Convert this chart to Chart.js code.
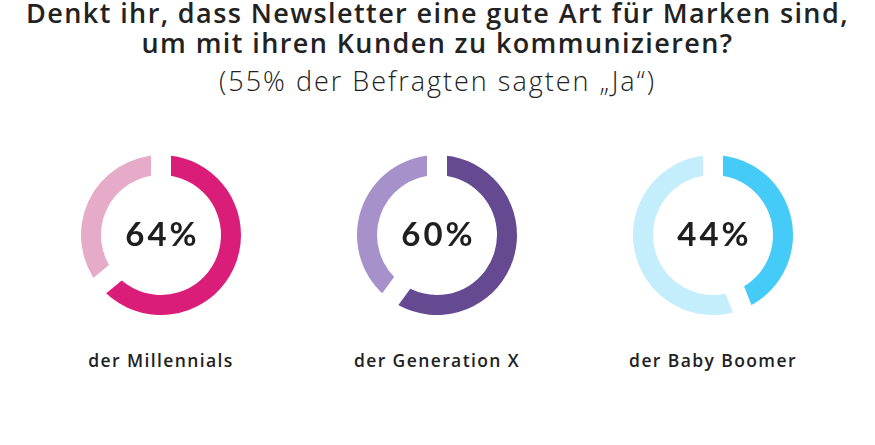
<!DOCTYPE html>
<html>
<head>
<meta charset="utf-8">
<script src="https://cdn.jsdelivr.net/npm/chart.js@4.4.1/dist/chart.umd.min.js"></script>
<style>
  html, body { margin: 0; padding: 0; background: #fff; }
  body { width: 875px; height: 445px; position: relative; overflow: hidden; font-family: "Open Sans", sans-serif; color: #222; }
  .title { position: absolute; left: 0; width: 875px; text-align: center; font-weight: 600; font-size: 27px; line-height: 26px; letter-spacing: 1.4px; white-space: nowrap; }
  .subtitle { position: absolute; top: 66px; left: 0; width: 875px; text-align: center; font-weight: 300; font-size: 27px; line-height: 30px; letter-spacing: 2px; }
  .donut { position: absolute; top: 155px; width: 160px; height: 160px; }
  .label { position: absolute; top: 349px; width: 276px; text-align: center; font-weight: 600; font-size: 17.5px; line-height: 22px; letter-spacing: 1.4px; }
</style>
</head>
<body>
<div class="title" style="top: 0px">Denkt ihr, dass Newsletter eine gute Art für Marken sind,</div>
<div class="title" style="top: 30px">um mit ihren Kunden zu kommunizieren?</div>
<div class="subtitle">(55% der Befragten sagten „Ja“)</div>
<div id="charts"></div>
<script>
const groups = ['der Millennials', 'der Generation X', 'der Baby Boomer'];
const yesShare = [64, 60, 44];
const darkColors = ['#DB1D7A', '#654A91', '#45CBF7'];
const lightColors = ['#E6ABC8', '#A791CB', '#C4EEFC'];
const centers = [161, 437, 713];

// white straight cuts between the two segments (parallel-edged gaps)
const gapCuts = {
    id: 'gapCuts',
    afterDatasetsDraw(chart) {
        const { ctx } = chart;
        ctx.save();
        ctx.strokeStyle = '#ffffff';
        ctx.lineWidth = 20;
        chart.getDatasetMeta(0).data.forEach(arc => {
            const r = arc.outerRadius + 4;
            ctx.beginPath();
            ctx.moveTo(arc.x, arc.y);
            ctx.lineTo(arc.x + Math.cos(arc.startAngle) * r, arc.y + Math.sin(arc.startAngle) * r);
            ctx.stroke();
        });
        ctx.restore();
    }
};

const centerText = {
    id: 'centerText',
    afterDraw(chart, args, opts) {
        const { ctx, chartArea } = chart;
        const x = (chartArea.left + chartArea.right) / 2;
        const y = (chartArea.top + chartArea.bottom) / 2;
        ctx.save();
        ctx.font = '700 33px Lato';
        ctx.letterSpacing = '3px';
        ctx.fillStyle = '#1f1f1f';
        ctx.textAlign = 'center';
        ctx.textBaseline = 'middle';
        ctx.fillText(opts.text, x + 1.5, y);
        ctx.restore();
    }
};

const holder = document.getElementById('charts');

groups.forEach((name, i) => {
    const wrap = document.createElement('div');
    wrap.className = 'donut';
    wrap.style.left = (centers[i] - 80) + 'px';
    const canvas = document.createElement('canvas');
    wrap.appendChild(canvas);
    holder.appendChild(wrap);

    const label = document.createElement('div');
    label.className = 'label';
    label.style.left = (centers[i] - 138) + 'px';
    label.textContent = name;
    document.body.appendChild(label);

    new Chart(canvas, {
        type: 'doughnut',
        data: {
            labels: ['Ja', 'Nein'],
            datasets: [{
                data: [yesShare[i], 100 - yesShare[i]],
                backgroundColor: [darkColors[i], lightColors[i]],
                borderWidth: 0
            }]
        },
        options: {
            responsive: true,
            maintainAspectRatio: false,
            animation: false,
            cutout: '75%',
            layout: { padding: 0 },
            plugins: {
                legend: { display: false },
                tooltip: { enabled: false },
                centerText: { text: yesShare[i] + '%' }
            }
        },
        plugins: [gapCuts, centerText]
    });
});
</script>
</body>
</html>
